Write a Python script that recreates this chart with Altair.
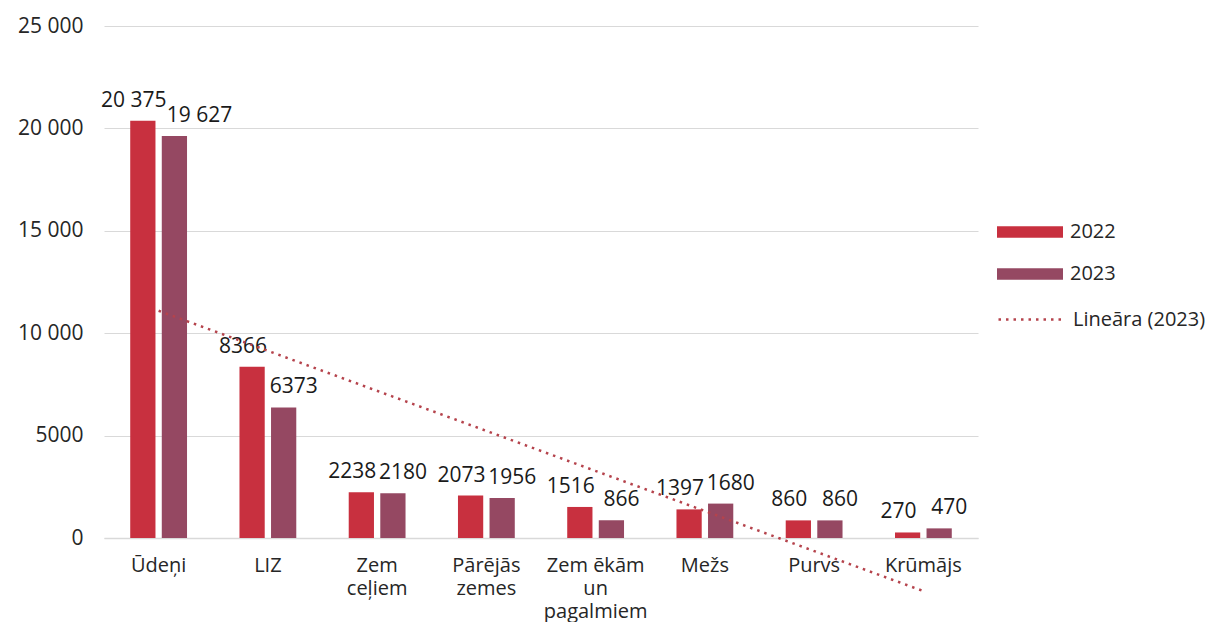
import altair as alt
import pandas as pd
import json

categories = ["Ūdeņi", "LIZ", "Zem ceļiem", "Pārējās zemes", "Zem ēkām un pagalmiem", "Mežs", "Purvs", "Krūmājs"]
series = ["2022", "2023"]
v2022 = [20375, 8366, 2238, 2073, 1516, 1397, 860, 270]
v2023 = [19627, 6373, 2180, 1956, 866, 1680, 860, 470]
trend_label = "Lineāra (2023)"
y_ticks = [0, 5000, 10000, 15000, 20000, 25000]

c2022 = "#C8303F"
c2023 = "#954862"
ctrend = "#B5434C"
FONT = "Open Sans"
FS = 21
LFS = 20
XFS = 20

rows = []
for c, a, b in zip(categories, v2022, v2023):
    rows.append({"cat": c, "series": "2022", "value": a})
    rows.append({"cat": c, "series": "2023", "value": b})
df = pd.DataFrame(rows)

cats_js = json.dumps(categories, ensure_ascii=False)
fmt_expr = "datum.value >= 10000 ? replace(format(datum.value, ','), ',', ' ') : format(datum.value, 'd')"

x_enc = alt.X(
    "cat:N", sort=categories, title=None,
    scale=alt.Scale(paddingInner=0.48, paddingOuter=0.24),
    axis=alt.Axis(
        labelAngle=0, labelFontSize=XFS, labelColor="#262626", labelFont=FONT,
        labelPadding=17, labelLineHeight=23, ticks=False,
        domainColor="#D9D9D9", domainWidth=1.5, labelBaseline="top",
        labelExpr="datum.label == 'Zem ēkām un pagalmiem' ? ['Zem ēkām', 'un', 'pagalmiem'] : split(datum.label, ' ')",
    ),
)
y_scale = alt.Scale(domain=[0, 25000], nice=False)
y_enc = alt.Y(
    "value:Q", title=None, scale=y_scale,
    axis=alt.Axis(
        values=y_ticks, labelFontSize=FS, labelColor="#262626", labelFont=FONT,
        labelPadding=21, ticks=False, domain=False, gridColor="#D9D9D9", gridWidth=1.2,
        labelExpr=fmt_expr,
    ),
)
xoff = alt.XOffset("series:N", sort=series, scale=alt.Scale(paddingInner=0.2))

base = alt.Chart(df)

bars = base.mark_bar().encode(
    x=x_enc, y=y_enc, xOffset=xoff,
    fill=alt.Fill(
        "series:N", sort=series,
        scale=alt.Scale(domain=series, range=[c2022, c2023]),
        legend=alt.Legend(
            title=None, orient="none", legendX=915, legendY=195,
            symbolType="M-3,-0.52H3V0.52H-3Z", symbolSize=484, symbolStrokeWidth=0,
            labelFontSize=LFS, labelFont=FONT, labelColor="#262626", labelOffset=29,
            rowPadding=21, padding=0,
        ),
    ),
)

def labels(s, dx, cond):
    return base.transform_filter(alt.datum.series == s).transform_filter(cond).transform_calculate(
        txt=fmt_expr
    ).mark_text(
        fontSize=FS, font=FONT, color="#1A1A1A", baseline="alphabetic", dy=-14, dx=dx
    ).encode(x=x_enc, y=y_enc, xOffset=xoff, text="txt:N")

trend = base.transform_filter(alt.datum.series == "2023").transform_calculate(
    idx=f"indexof({cats_js}, datum.cat) + 1"
).transform_regression("idx", "value", method="linear").transform_calculate(
    cat=f"{cats_js}[round(datum.idx) - 1]", lab=f"'{trend_label}'"
).mark_line(strokeWidth=2.5, strokeDash=[2.5, 5], clip=False).encode(
    x=alt.X("cat:N", sort=categories),
    y=alt.Y("value:Q", scale=y_scale),
    stroke=alt.Stroke(
        "lab:N",
        scale=alt.Scale(domain=[trend_label], range=[ctrend]),
        legend=alt.Legend(
            title=None, orient="none", legendX=915, legendY=281,
            symbolType="M-3,0H3", symbolSize=484, symbolStrokeWidth=2.5,
            symbolDash=[2.5, 5],
            labelFontSize=LFS, labelFont=FONT, labelColor="#262626", labelOffset=29,
            padding=0,
        ),
    ),
)

chart = alt.layer(
    bars,
    labels("2022", -9, alt.datum.value >= 0),
    labels("2023", 10, alt.datum.value < 10000),
    labels("2023", 25, alt.datum.value >= 10000),
    trend,
).properties(
    width=874, height=512,
    background="white",
    autosize=alt.AutoSizeParams(type="none"),
    padding={"left": 96, "top": 18, "right": 229, "bottom": 84},
).resolve_scale(
    fill="independent", stroke="independent"
).configure_view(strokeWidth=0)

chart.save("out.html", embed_options={"renderer": "svg", "actions": False})
